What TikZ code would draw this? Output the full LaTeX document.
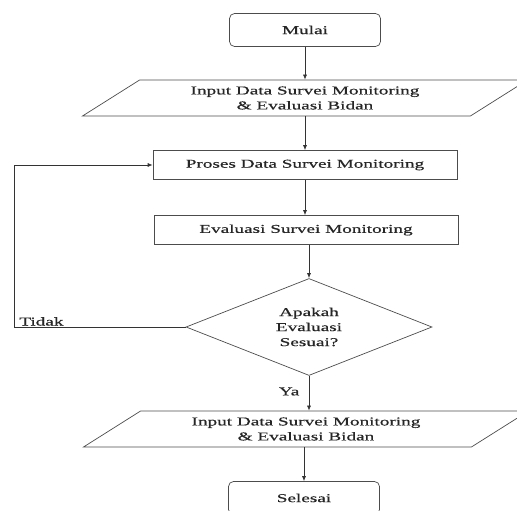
\documentclass[tikz,border=0pt]{standalone}
\usepackage{fontspec}
\setmainfont{Liberation Serif}[FakeStretch=1.6, FakeBold=0.6]
\usetikzlibrary{shapes.geometric, positioning, arrows.meta}

\begin{document}
\begin{tikzpicture}[x=1pt, y=-1pt, line width=0.7pt,
        >={Latex[length=5pt,width=4pt]},
        every node/.style={font=\fontsize{12}{15}\selectfont, text=black!85},
        terminal/.style={draw=black!70, rectangle, rounded corners=5pt,
            minimum width=151pt, minimum height=33pt, inner sep=0pt},
        process/.style={draw=black!70, rectangle,
            minimum width=304pt, minimum height=29pt, inner sep=0pt},
        io/.style={draw=black!70, trapezium, trapezium left angle=22,
            trapezium right angle=158, trapezium stretches body,
            minimum width=445pt, minimum height=36pt, inner sep=0pt, align=center},
        decision/.style={draw=black!70, diamond, aspect=2.5,
            minimum width=246pt, minimum height=97pt, inner sep=0pt, align=center},
        flow/.style={draw=black!80, ->}]

        % picture frame
        \clip (0,0) rectangle (517,511);

        % ==========================================
        % Blocks
        % ==========================================
        \node[terminal] (mulai) at (305,30) {Mulai};
        \node[io] (input1) at (305,98) {Input Data Survei Monitoring\\ \& Evaluasi Bidan};
        \node[process] (proses) at (305,165) {Proses Data Survei Monitoring};
        \node[process] (evaluasi) at (306,230) {Evaluasi Survei Monitoring};
        \node[decision] (sesuai) at (309,327) {Apakah\\ Evaluasi\\ Sesuai?};
        \node[io] (input2) at (306,429) {Input Data Survei Monitoring\\ \& Evaluasi Bidan};
        \node[terminal] (selesai) at (304,498) {Selesai};

        % ==========================================
        % Connectors
        % ==========================================
        \draw[flow] (mulai.south) -- (mulai.south |- input1.north);
        \draw[flow] (proses.north |- input1.south) -- (proses.north);
        \draw[flow] (proses.south) -- (proses.south |- evaluasi.north);
        \draw[flow] (evaluasi.south -| sesuai.north) -- (sesuai.north);
        \draw[flow] (sesuai.south) -- node[left=6pt, pos=0.45] (ya) {Ya} (sesuai.south |- input2.north);
        \draw[flow] (selesai.north |- input2.south) -- (selesai.north);

        % Tidak loop back
        \coordinate (tidakturn) at (14,327);
        \draw[flow] (sesuai.west) -- (tidakturn) node[above right, xshift=4pt, inner sep=1pt] (tidak) {Tidak}
            |- (proses.west);

    \end{tikzpicture}
\end{document}
